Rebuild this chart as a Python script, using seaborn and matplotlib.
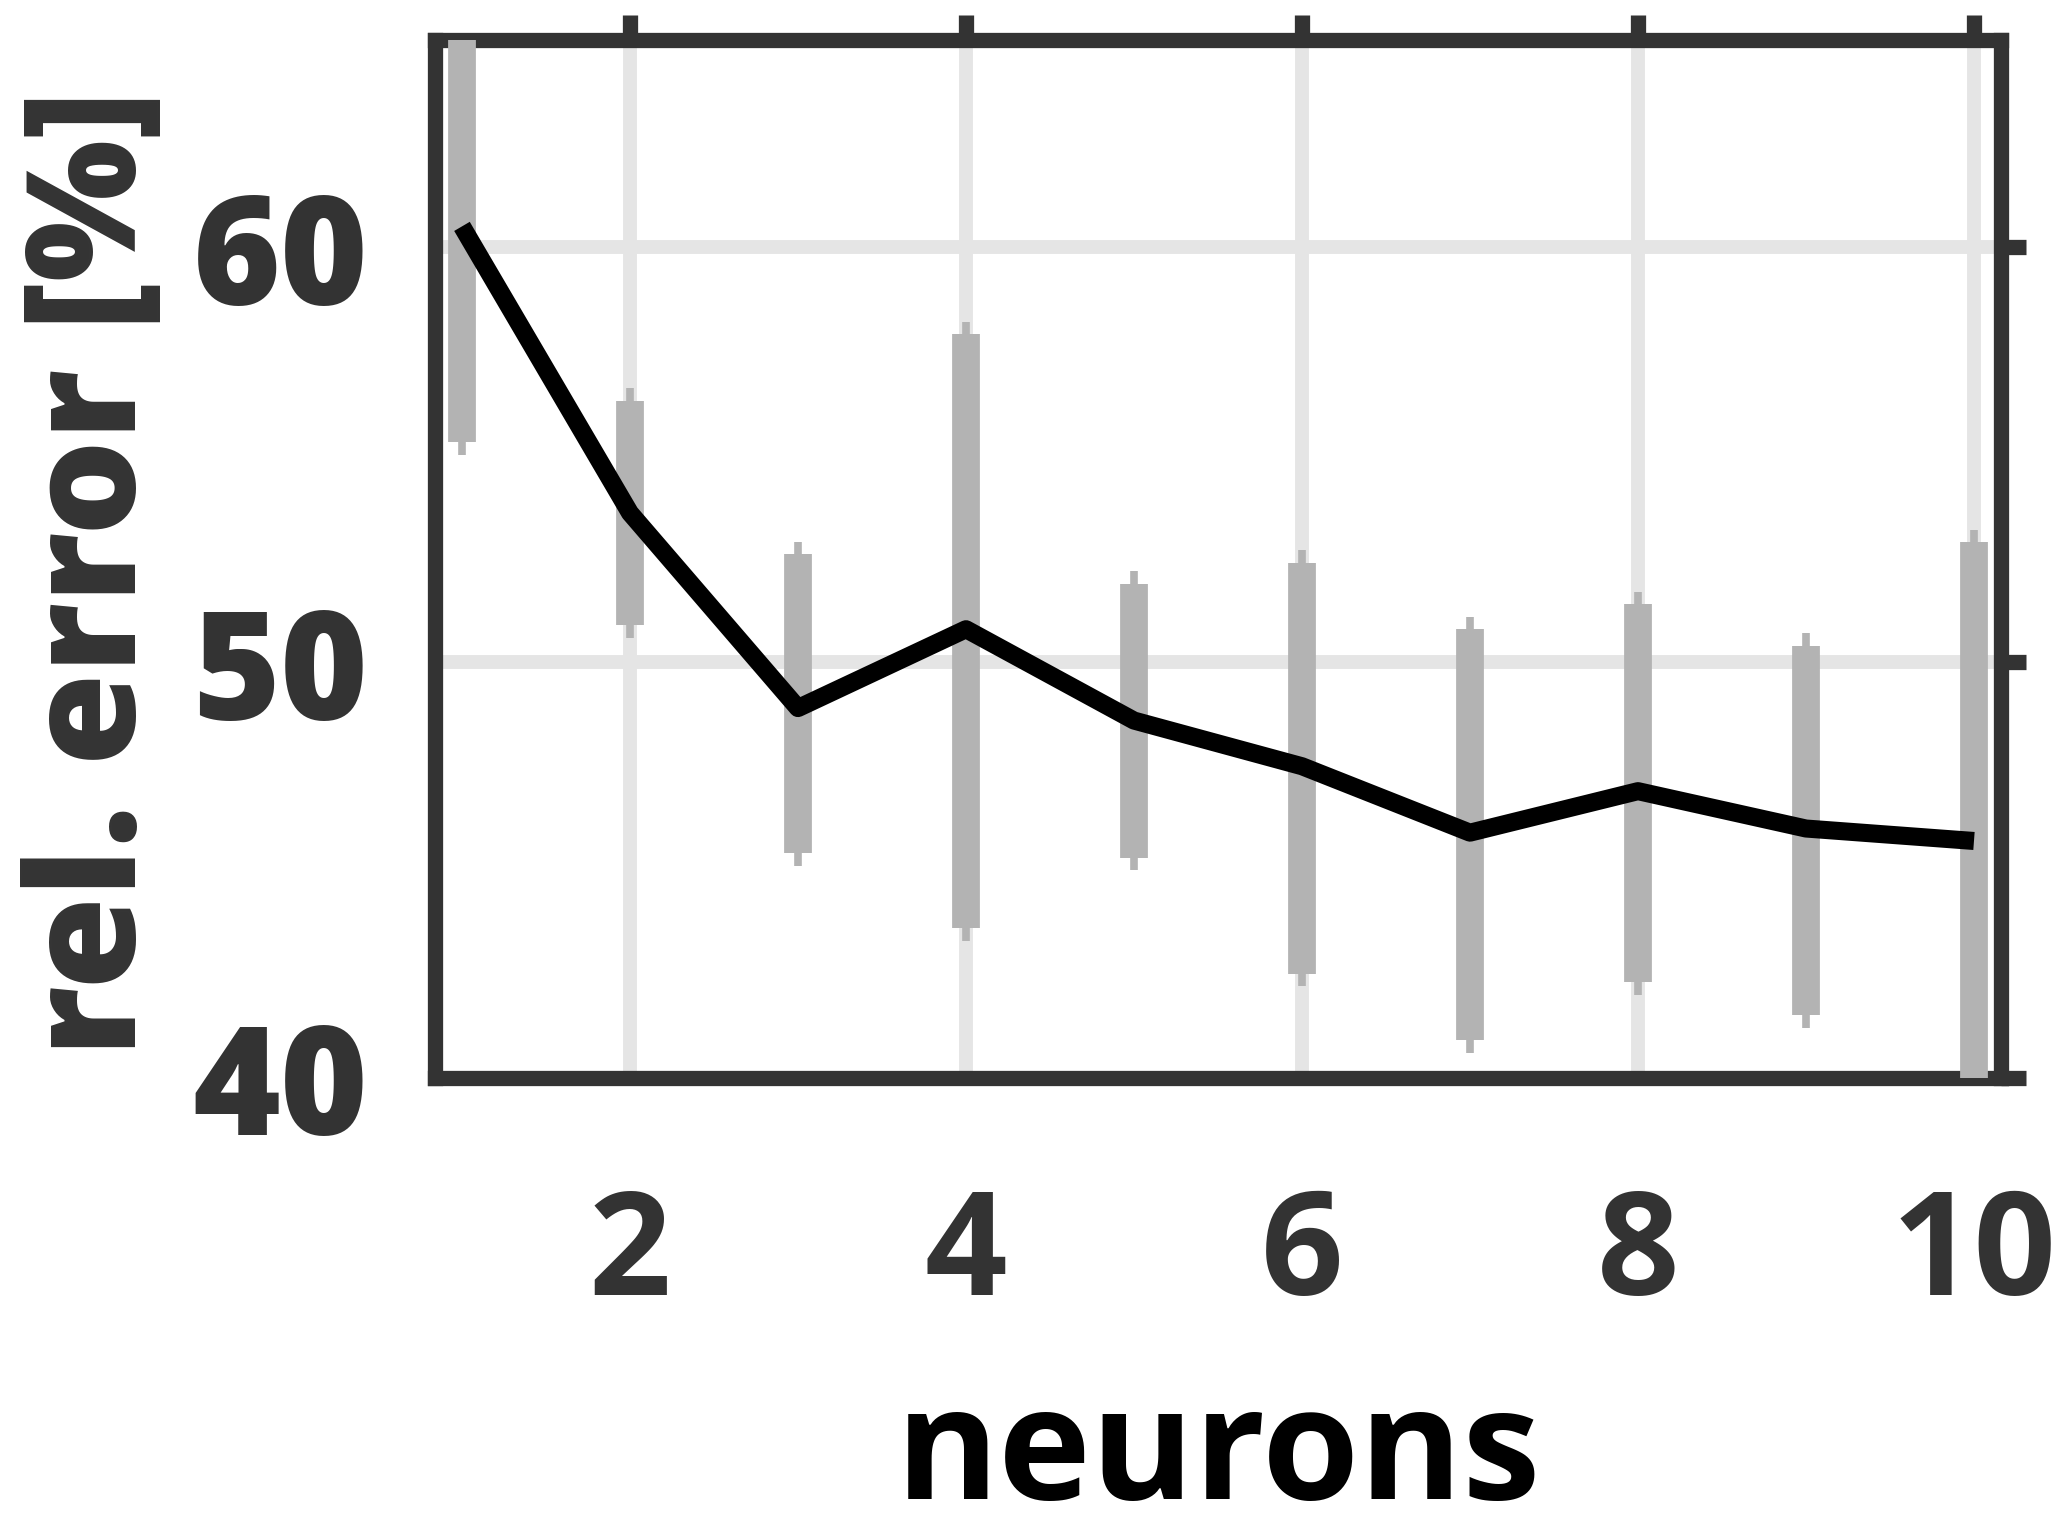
import numpy as np
import pandas as pd
from matplotlib import pyplot as plt
import seaborn as sns

# data
neurons = [1, 2, 3, 4, 5, 6, 7, 8, 9, 10]
mean_err = [60.5, 53.6, 48.9, 50.8, 48.6, 47.5, 45.9, 46.9, 46.0, 45.7]
box_low = [55.3, 50.9, 45.4, 43.6, 45.3, 42.5, 40.9, 42.3, 41.5, 40.0]
box_high = [65.5, 56.3, 52.6, 57.9, 51.9, 52.4, 50.8, 51.4, 50.4, 52.9]
whisk_low = [55.0, 50.6, 45.1, 43.3, 45.0, 42.2, 40.6, 42.0, 41.2, 39.7]
whisk_high = [65.8, 56.6, 52.9, 58.2, 52.2, 52.7, 51.1, 51.7, 50.7, 53.2]
x_ticks = [2, 4, 6, 8, 10]
y_ticks = [40, 50, 60]

df = pd.DataFrame({'neurons': neurons, 'err': mean_err})

sns.set_style('white')
dark = '#333333'
fam = ['Open Sans', 'DejaVu Sans']

fig = plt.figure(figsize=(20.67, 15.2), dpi=100)
ax = fig.add_axes([0.2105, 0.291, 0.7575, 0.683])

ax.grid(True, color='#e5e5e5', linewidth=10)
ax.set_axisbelow(True)

# whiskers then boxes
ax.vlines(neurons, whisk_low, whisk_high, color='#b3b3b3', linewidth=5.5, zorder=2)
ax.vlines(neurons, box_low, box_high, color='#b3b3b3', linewidth=20, zorder=3)

sns.lineplot(data=df, x='neurons', y='err', color='black', linewidth=13,
             solid_capstyle='butt', ax=ax, zorder=4)

ax.set_xlim(0.84, 10.16)
ax.set_ylim(40, 65)
ax.set_xticks(x_ticks)
ax.set_yticks(y_ticks)

for s in ax.spines.values():
    s.set_visible(True)
    s.set_color(dark)
    s.set_linewidth(11)

ax.tick_params(axis='both', which='both', direction='out', length=18, width=11, color=dark,
               top=True, right=True, labeltop=False, labelright=False)
ax.tick_params(axis='x', pad=60)
ax.tick_params(axis='y', pad=30)

for lab in ax.get_xticklabels():
    lab.set_family(fam)
    lab.set_fontweight('bold')
    lab.set_fontsize(104)
    lab.set_color(dark)
for lab in ax.get_yticklabels():
    lab.set_family(fam)
    lab.set_fontweight('heavy')
    lab.set_fontsize(108)
    lab.set_color(dark)

ax.set_xlabel('neurons', fontsize=113, fontweight='bold', color='black', family=fam)
ax.set_ylabel('rel. error [%]', fontsize=108, fontweight='heavy', color=dark, family=fam)
ax.xaxis.label.set_verticalalignment('baseline')
ax.yaxis.label.set_verticalalignment('center')
ax.xaxis.set_label_coords(0.5, -0.406)
ax.yaxis.set_label_coords(-0.216, 0.486)

fig.savefig('out.png', dpi=100)
